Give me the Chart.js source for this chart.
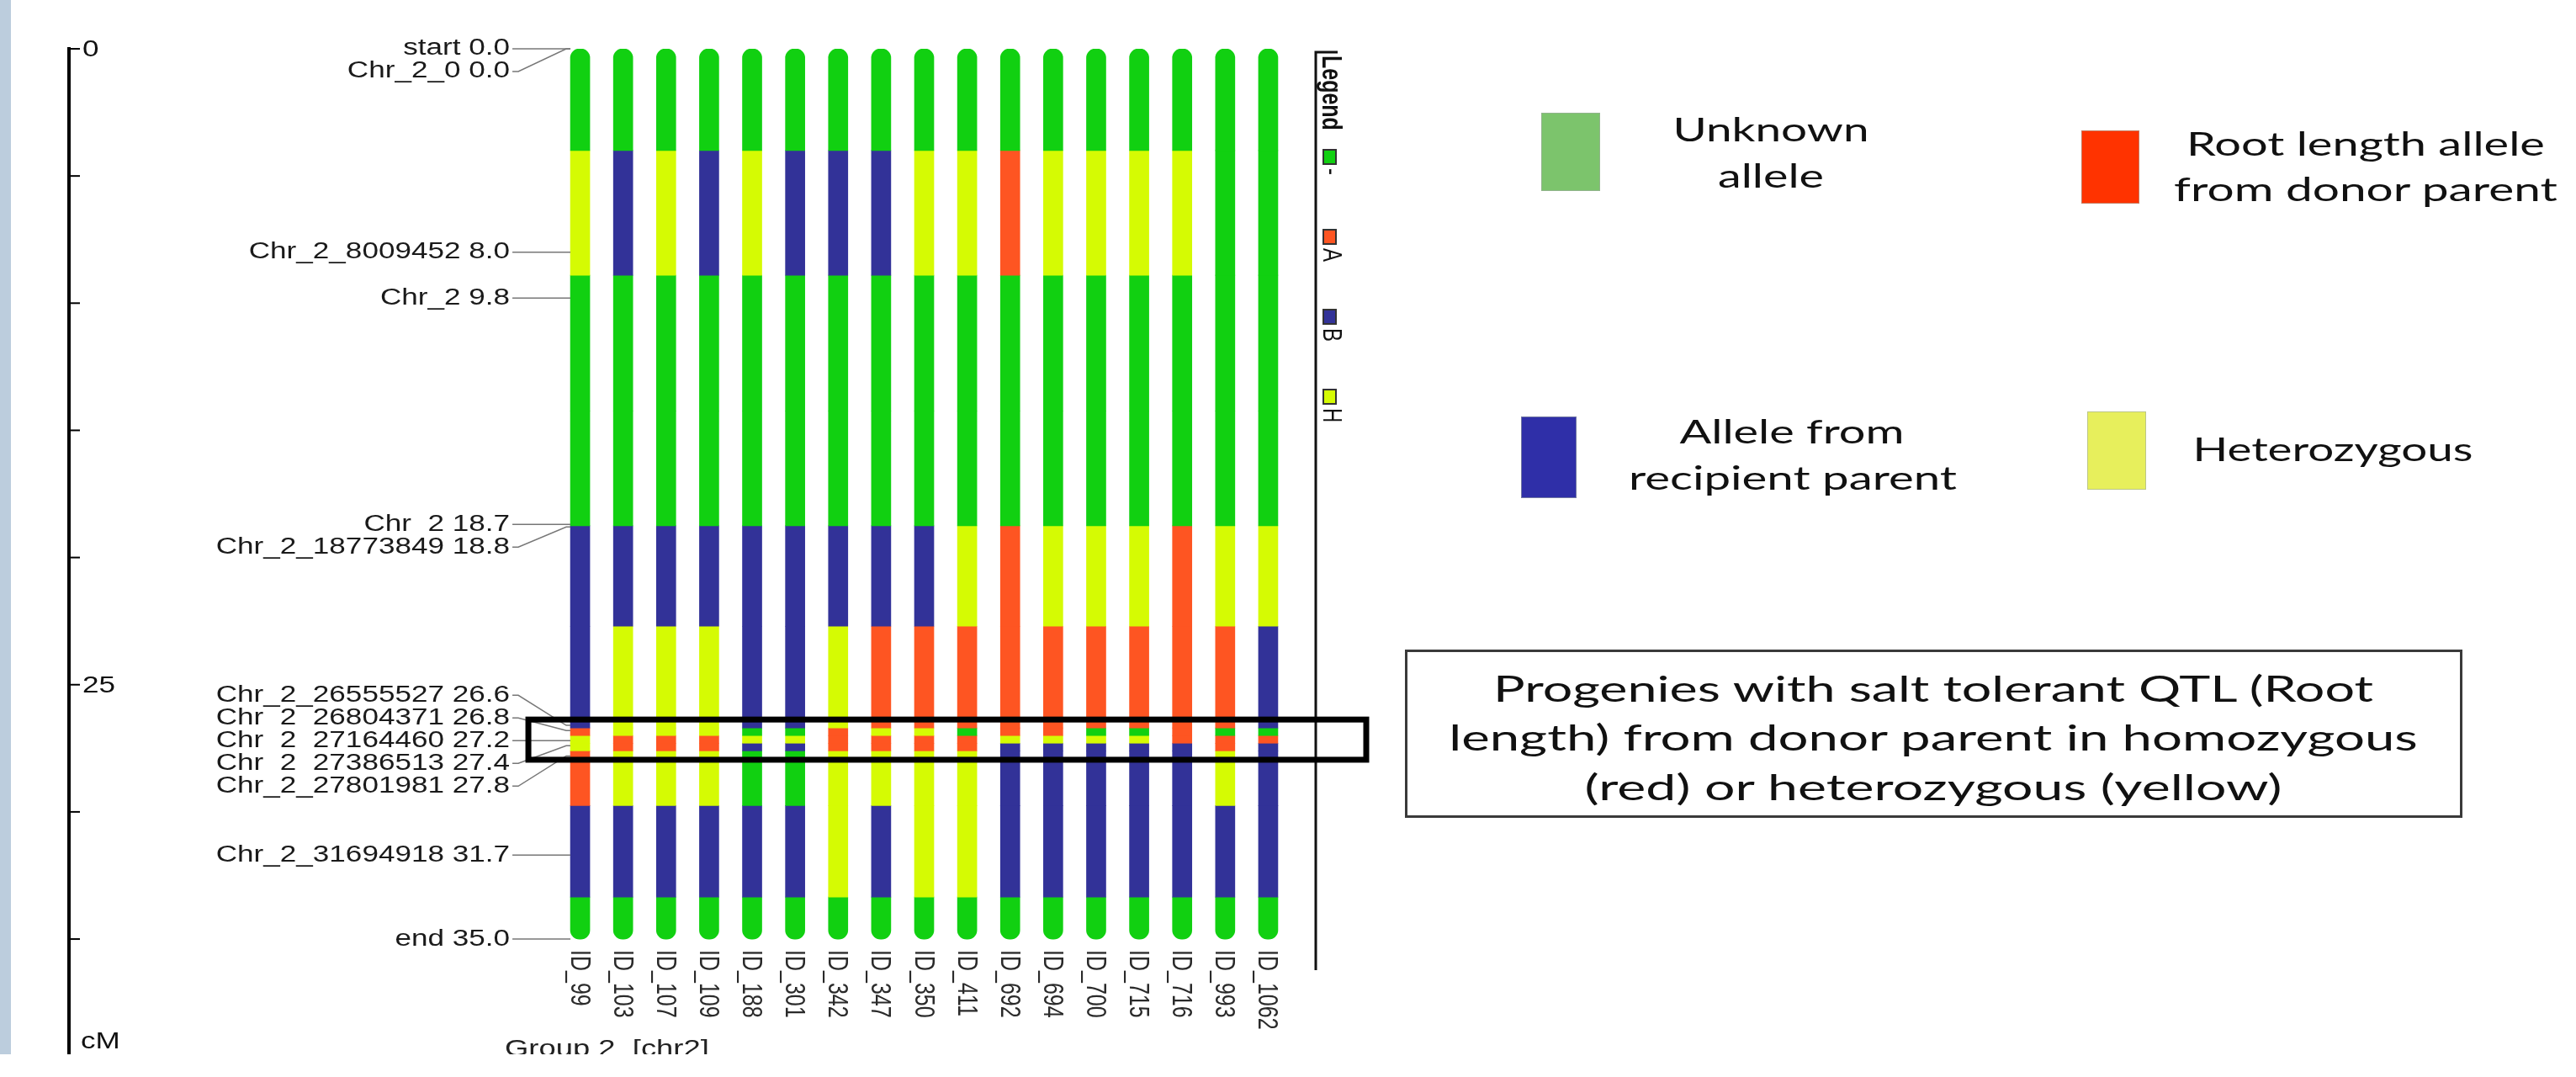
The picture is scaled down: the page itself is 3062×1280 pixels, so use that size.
<!DOCTYPE html>
<html>
<head>
<meta charset="utf-8">
<script src="https://cdn.jsdelivr.net/npm/chart.js@4.4.1/dist/chart.umd.min.js"></script>
<style>
  html, body { margin: 0; padding: 0; background: #fff; }
  body { width: 3062px; height: 1280px; position: relative; overflow: hidden; font-family: Lato, "Open Sans", sans-serif; }
  #band { position: absolute; left: 0; top: 0; width: 13px; height: 1253px; background: #bccddd; }
  #map { position: absolute; left: 0; top: 0; }
  .swatch { position: absolute; box-sizing: border-box; border: 1px solid rgba(160,170,160,0.6); }
  .fit { position: absolute; white-space: nowrap; color: #111; line-height: 1; transform: translate(-50%, -50%); transform-origin: center center; }
  #note { position: absolute; left: 1670px; top: 772px; width: 1257px; height: 200px; box-sizing: border-box; border: 3px solid #3a3a3a; background: #fff; }
</style>
</head>
<body>
<div id="band"></div>
<canvas id="map" width="3062" height="1253"></canvas>

<div class="swatch" style="left:1832px;top:134px;width:70px;height:93px;background:#7cc46c"></div>
<div class="fit" data-w="233" style="left:2105px;top:153px;font-size:39px">Unknown</div>
<div class="fit" data-w="126" style="left:2105px;top:208px;font-size:39px">allele</div>

<div class="swatch" style="left:2474px;top:155px;width:69px;height:87px;background:#ff3300"></div>
<div class="fit" data-w="426" style="left:2812px;top:170px;font-size:39px">Root length allele</div>
<div class="fit" data-w="456" style="left:2812px;top:224px;font-size:39px">from donor parent</div>

<div class="swatch" style="left:1808px;top:495px;width:66px;height:97px;background:#2f2fa8"></div>
<div class="fit" data-w="267" style="left:2130px;top:512px;font-size:39px">Allele from</div>
<div class="fit" data-w="390" style="left:2131px;top:567px;font-size:39px">recipient parent</div>

<div class="swatch" style="left:2481px;top:489px;width:70px;height:93px;background:#e7ef5c"></div>
<div class="fit" data-w="333" style="left:2773px;top:533px;font-size:39px">Heterozygous</div>

<div id="note"></div>
<div class="fit" data-w="1046" style="left:2298px;top:817px;font-size:43px">Progenies with salt tolerant QTL (Root</div>
<div class="fit" data-w="1152" style="left:2298px;top:875px;font-size:43px">length) from donor parent in homozygous</div>
<div class="fit" data-w="829" style="left:2298px;top:934px;font-size:43px">(red) or heterozygous (yellow)</div>

<script>
const progenies = ['ID_99', 'ID_103', 'ID_107', 'ID_109', 'ID_188', 'ID_301', 'ID_342', 'ID_347', 'ID_350',
  'ID_411', 'ID_692', 'ID_694', 'ID_700', 'ID_715', 'ID_716', 'ID_993', 'ID_1062'];

const markerNames = ['start', 'Chr_2_0', 'Chr_2_8009452', 'Chr_2', 'Chr  2', 'Chr_2_18773849', 'Chr_2_26555527',
  'Chr  2  26804371', 'Chr  2  27164460', 'Chr  2  27386513', 'Chr_2_27801981', 'Chr_2_31694918', 'end'];
const markerCM = [0.0, 0.0, 8.0, 9.8, 18.7, 18.8, 26.6, 26.8, 27.2, 27.4, 27.8, 31.7, 35.0];

// one string per marker, one letter per progeny (- unknown, A donor, B recipient, H heterozygous)
const genotypes = [
  '-----------------',
  '-----------------',
  'HBHBHBBBHHAHHHH--',
  '-----------------',
  '-----------------',
  'BBBBBBBBBHAHHHAHH',
  'BHHHBBHAAAAAAAAAB',
  'AHHH--AHH-AA--A--',
  'HAAAHHAAAAHHHHAAA',
  'HAAABBAAAABBBBBAB',
  'AHHH--HHHHBBBBBHB',
  'BBBBBBHBHHBBBBBBB',
  '-----------------'
];

const axisTicks = [0, 5, 10, 15, 20, 25, 30, 35];
const axisLabels = [0, 25];
const legendKeys = ['-', 'A', 'B', 'H'];
const qtlBox = [26.37, 27.95];

const alleleColors = { '-': '#11d011', 'A': '#fe5522', 'B': '#323298', 'H': '#d5fb03' };

// each marker's genotype covers half way to its neighbours
const datasets = [];
markerCM.forEach((cm, i) => {
  const lo = i === 0 ? cm : (markerCM[i - 1] + cm) / 2;
  const hi = i === markerCM.length - 1 ? cm : (cm + markerCM[i + 1]) / 2;
  if (hi <= lo) return;
  datasets.push({
    label: markerNames[i],
    data: progenies.map(() => [lo, hi]),
    backgroundColor: progenies.map((_, j) => alleleColors[genotypes[i][j]]),
    borderRadius: 0
  });
});
datasets[0].borderRadius = { topLeft: 11, topRight: 11, bottomLeft: 0, bottomRight: 0 };
datasets[datasets.length - 1].borderRadius = { topLeft: 0, topRight: 0, bottomLeft: 11, bottomRight: 11 };

const STRETCH = 1.3;
const LABEL_FONT = '27px "Liberation Sans", Arial, sans-serif';

function sText(ctx, str, x, y, align, font, color) {
  ctx.save();
  ctx.font = font;
  ctx.fillStyle = color;
  ctx.textAlign = align;
  ctx.textBaseline = 'middle';
  ctx.translate(x, y);
  ctx.scale(STRETCH, 1);
  ctx.fillText(str, 0, 0);
  ctx.restore();
}

function vText(ctx, str, x, y, font, color) {
  ctx.save();
  ctx.font = font;
  ctx.fillStyle = color;
  ctx.textAlign = 'left';
  ctx.textBaseline = 'middle';
  ctx.translate(x, y);
  ctx.rotate(Math.PI / 2);
  ctx.scale(1, STRETCH);
  ctx.fillText(str, 0, 0);
  ctx.restore();
}

const mapDecor = {
  id: 'mapDecor',
  afterDatasetsDraw(chart) {
    const ctx = chart.ctx;
    const xs = chart.scales.x, ys = chart.scales.y;
    const area = chart.chartArea;
    const barLeft = xs.getPixelForValue(0) - 11.5;

    // cM axis
    const axisX = 82;
    ctx.save();
    ctx.strokeStyle = '#000';
    ctx.lineWidth = 4;
    ctx.beginPath();
    ctx.moveTo(axisX, ys.getPixelForValue(0) - 2);
    ctx.lineTo(axisX, area.bottom);
    ctx.stroke();
    ctx.lineWidth = 2;
    axisTicks.forEach(v => {
      const y = ys.getPixelForValue(v);
      ctx.beginPath();
      ctx.moveTo(axisX, y);
      ctx.lineTo(axisX + 13, y);
      ctx.stroke();
    });
    ctx.restore();
    axisLabels.forEach(v => sText(ctx, String(v), axisX + 16, ys.getPixelForValue(v) + 2, 'left', LABEL_FONT, '#111'));
    sText(ctx, 'cM', axisX + 14, area.bottom - 14, 'left', LABEL_FONT, '#111');

    // marker labels, spread so they do not collide
    const G = 27;
    const py = markerCM.map(v => ys.getPixelForValue(v));
    const ly = new Array(py.length);
    let start = 0;
    for (let i = 1; i <= py.length; i++) {
      if (i === py.length || py[i] - py[i - 1] >= G) {
        const k = start + Math.floor((i - 1 - start) / 2);
        for (let j = start; j < i; j++) ly[j] = py[k] + (j - k) * G;
        start = i;
      }
    }
    const labelRight = barLeft - 72;
    ctx.save();
    ctx.strokeStyle = '#777';
    ctx.lineWidth = 1.5;
    py.forEach((p, i) => {
      ctx.beginPath();
      ctx.moveTo(labelRight + 3, ly[i]);
      ctx.lineTo(labelRight + 10, ly[i]);
      ctx.lineTo(barLeft - 5, p);
      ctx.lineTo(barLeft, p);
      ctx.stroke();
    });
    ctx.restore();
    markerNames.forEach((name, i) => {
      sText(ctx, name + ' ' + markerCM[i].toFixed(1), labelRight, ly[i], 'right', LABEL_FONT, '#1a1a1a');
    });

    // progeny names under the bars
    const idTop = ys.getPixelForValue(markerCM[markerCM.length - 1]) + 13;
    progenies.forEach((id, j) => {
      vText(ctx, id, xs.getPixelForValue(j) - 2, idTop, '25px "Liberation Sans", Arial, sans-serif', '#2a2a2a');
    });
    sText(ctx, 'Group 2  [chr2]', barLeft - 78, area.bottom - 6, 'left', '28px "Liberation Sans", Arial, sans-serif', '#222');

    // MapChart legend strip
    const lx = area.right + 31;
    ctx.save();
    ctx.strokeStyle = '#111';
    ctx.lineWidth = 3;
    ctx.beginPath();
    ctx.moveTo(lx + 26, area.top + 4);
    ctx.lineTo(lx, area.top + 4);
    ctx.lineTo(lx, area.top + 1095);
    ctx.stroke();
    ctx.restore();
    vText(ctx, 'Legend', lx + 17, area.top + 8, 'bold 25px "Liberation Sans", Arial, sans-serif', '#111');
    legendKeys.forEach((k, i) => {
      const top = area.top + 120 + i * 95;
      ctx.save();
      ctx.fillStyle = alleleColors[k];
      ctx.strokeStyle = '#333';
      ctx.lineWidth = 2;
      ctx.fillRect(lx + 9, top, 15, 17);
      ctx.strokeRect(lx + 9, top, 15, 17);
      ctx.restore();
      vText(ctx, k, lx + 18, top + 22, '24px "Liberation Sans", Arial, sans-serif', '#111');
    });

    // QTL frame
    ctx.save();
    ctx.strokeStyle = '#000';
    ctx.lineWidth = 7;
    const top = ys.getPixelForValue(qtlBox[0]);
    const bottom = ys.getPixelForValue(qtlBox[1]);
    ctx.strokeRect(barLeft - 50, top, (lx + 60) - (barLeft - 50), bottom - top);
    ctx.restore();
  }
};

new Chart(document.getElementById('map'), {
  type: 'bar',
  data: { labels: progenies, datasets: datasets },
  options: {
    responsive: false,
    animation: false,
    devicePixelRatio: 1,
    layout: { padding: { left: 664, right: 1529, top: 58, bottom: 0 } },
    plugins: { legend: { display: false }, tooltip: { enabled: false } },
    datasets: { bar: { grouped: false, barThickness: 23, borderSkipped: false, borderWidth: 0 } },
    scales: {
      x: { type: 'category', display: false, offset: true },
      y: { type: 'linear', display: false, reverse: true, min: 0, max: 39.53 }
    }
  },
  plugins: [mapDecor]
});

function fitTexts() {
  document.querySelectorAll('.fit').forEach(el => {
    el.style.transform = 'translate(-50%, -50%)';
    const w = el.getBoundingClientRect().width;
    el.style.transform = `translate(-50%, -50%) scaleX(${(+el.dataset.w / w).toFixed(3)})`;
  });
}
fitTexts();
document.fonts.ready.then(fitTexts);
</script>
</body>
</html>
